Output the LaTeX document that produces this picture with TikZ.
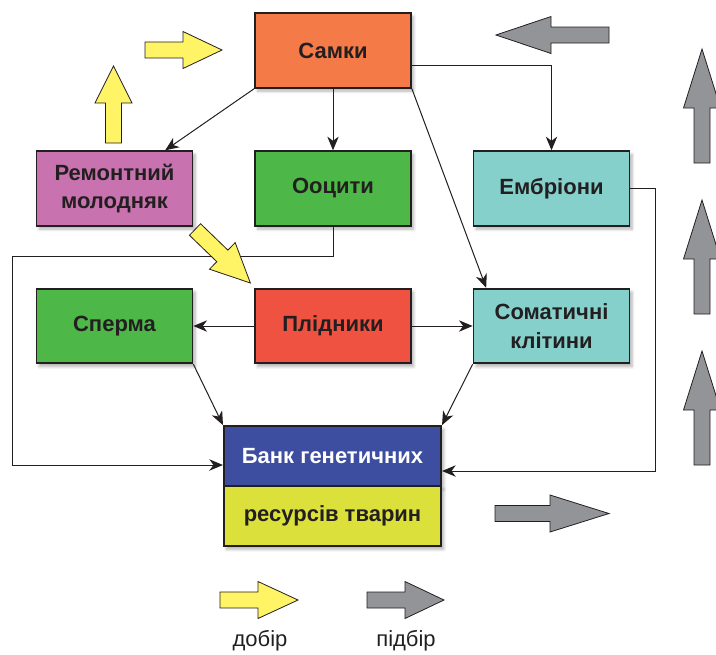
\documentclass[tikz,border=0pt]{standalone}
\usepackage{fontspec}
\setmainfont{Liberation Sans}
\usepackage{tikz}
\usetikzlibrary{positioning,arrows.meta,shadows.blur}
\definecolor{ink}{HTML}{231F20}
\definecolor{samc}{HTML}{F47A47}
\definecolor{remc}{HTML}{C872B0}
\definecolor{grnc}{HTML}{4DB748}
\definecolor{tealc}{HTML}{85D0CB}
\definecolor{redc}{HTML}{EF5241}
\definecolor{bankb}{HTML}{3D4EA0}
\definecolor{banky}{HTML}{DCE03A}
\definecolor{arry}{HTML}{FFF466}
\definecolor{arrg}{HTML}{929497}
\tikzset{
  % --- boxes -----------------------------------------------------------------
  soft/.style={blur shadow={shadow xshift=2pt,shadow yshift=-2.5pt,
               shadow blur steps=6,shadow opacity=30}},
  box/.style={rectangle,draw=ink,line width=1.3pt,minimum width=117pt,
              minimum height=56pt,inner sep=2pt,align=center,text=ink,
              font=\fontsize{16.5}{21.5}\selectfont\bfseries,soft},
  bankbox/.style={box,minimum width=163pt,minimum height=45pt},
  % --- connectors ------------------------------------------------------------
  link/.style={-{Stealth[length=3.6mm,width=3mm,inset=1.1mm]},ink,line width=0.75pt},
  % --- block arrows (selection) ----------------------------------------------
  yarr/.style={fill=arry,draw=ink,line width=0.6pt,soft},
  garr/.style={fill=arrg,draw=ink,line width=0.6pt,soft},
  pics/blockarrow/.style 2 args={code={
    \draw[pic actions] (0,-8) -- (#1-#2,-8) -- (#1-#2,-18.5) -- (#1,0)
      -- (#1-#2,18.5) -- (#1-#2,8) -- (0,8) -- cycle;}},
  legtext/.style={font=\fontsize{16.5}{20}\selectfont,text=ink,inner sep=0pt},
}
\begin{document}
\begin{tikzpicture}[x=0.75pt, y=-0.75pt]
  \useasboundingbox (0,0) rectangle (716,654);

  \node[box,fill=samc]  (samky)  at (333,50.5)   {Самки};
  \node[box,fill=remc]  (remont) at (114.5,188.5) {Ремонтний\\молодняк};
  \node[box,fill=grnc]  (oocyt)  at (333,188.5)  {Ооцити};
  \node[box,fill=tealc] (embr)   at (551.5,188.5) {Ембріони};
  \node[box,fill=grnc]  (sperm)  at (114.5,326)  {Сперма};
  \node[box,fill=redc]  (plid)   at (333,326)    {Плідники};
  \node[box,fill=tealc] (somat)  at (551.5,326)  {Соматичні\\клітини};
  \node[bankbox,fill=bankb,text=white] (banktop) at (332.5,456) {Банк генетичних};
  \node[bankbox,fill=banky,below=-1.3pt of banktop] (bankbot) {ресурсів тварин};

  % from the females
  \draw[link] (samky.south west) -- ([xshift=38pt]remont.north);
  \draw[link] (samky.south) -- (oocyt.north);
  \draw[link] ([yshift=-11.6pt]samky.east) -| (embr.north);
  \draw[link] (samky.south east) -- ([xshift=-49pt]somat.north);

  % from the males
  \draw[link] (plid.west) -- (sperm.east);
  \draw[link] (plid.east) -- (somat.west);

  % into the bank
  \coordinate (lcorner) at (12,256);
  \coordinate (rcorner) at (655,471);
  \draw[link] (oocyt.south) |- (lcorner) |- ([yshift=-6.75pt]banktop.west);
  \draw[link] (embr.east) -| (rcorner) -- ([yshift=-11.25pt]banktop.east);
  \draw[link] (sperm.south east) -- (banktop.north west);
  \draw[link] (somat.south west) -- (banktop.north east);

  % selection arrows
  \pic[yarr]             (ytop)  at (145,50)    {blockarrow={77}{39}};
  \pic[yarr,rotate=90]   (yup)   at (113.5,143) {blockarrow={77}{37}};
  \pic[yarr,rotate=-44]  (ydiag) at (195,229.5) {blockarrow={77}{39}};
  \pic[garr,rotate=180]  (gleft) at (609,35)    {blockarrow={113}{55}};
  \foreach \i/\ty in {1/163,2/314,3/465}
    \pic[garr,rotate=90] (gup\i) at (702,\ty)  {blockarrow={114}{59}};
  \pic[garr]             (gright) at (495,513.5) {blockarrow={114}{59}};

  % legend
  \pic[yarr] (ylegend) at (220,600) {blockarrow={78}{40}};
  \pic[garr] (glegend) at (367,600) {blockarrow={77}{39}};
  \node[legtext,anchor=base] (dobir)  at (260,646) {добір};
  \node[legtext,anchor=base] (pidbir) at (406,646) {підбір};
\end{tikzpicture}
\end{document}
